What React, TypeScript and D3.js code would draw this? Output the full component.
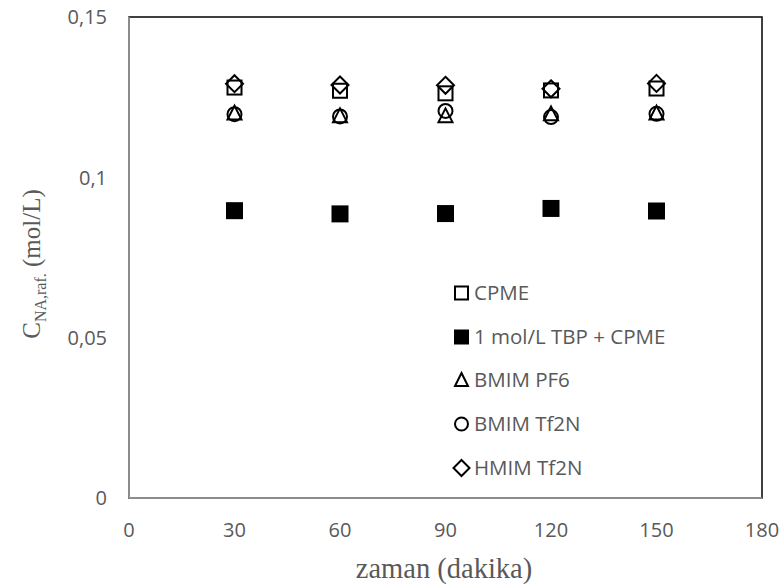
import React from "react";
import * as d3 from "d3";

const times = [30, 60, 90, 120, 150];
const cpme = [0.128, 0.127, 0.1262, 0.1271, 0.1277];
const tbpCpme = [0.0896, 0.0886, 0.0887, 0.0903, 0.0895];
const bmimPf6 = [0.12, 0.1192, 0.1192, 0.1198, 0.12];
const bmimTf2n = [0.1197, 0.119, 0.1207, 0.1188, 0.1198];
const hmimTf2n = [0.1292, 0.1288, 0.1287, 0.1276, 0.1293];
const xTicks = [0, 30, 60, 90, 120, 150, 180];
const yTicks = [0, 0.05, 0.1, 0.15];
const seriesNames = ["CPME", "1 mol/L TBP + CPME", "BMIM PF6", "BMIM Tf2N", "HMIM Tf2N"];

const W = 779, H = 586;
const L = 129, R = 762, T = 17, B = 498;
const x = d3.scaleLinear().domain([0, 180]).range([L, R]);
const y = d3.scaleLinear().domain([0, 0.15]).range([B, T]);
const gray = "#595959";
const fmt = (v: number) => String(v).replace(".", ",");

type Kind = "sq" | "fsq" | "tri" | "circ" | "dia";
const kinds: Kind[] = ["sq", "fsq", "tri", "circ", "dia"];
const data = [cpme, tbpCpme, bmimPf6, bmimTf2n, hmimTf2n];

function Marker({ kind, cx, cy, s, sw }: { kind: Kind; cx: number; cy: number; s: number; sw: number }) {
  const h = s / 2;
  if (kind === "sq" || kind === "fsq") {
    return (
      <rect x={cx - h + sw / 2} y={cy - h + sw / 2} width={s - sw} height={s - sw}
        fill={kind === "fsq" ? "#000" : "none"} stroke="#000" strokeWidth={sw} />
    );
  }
  if (kind === "circ") {
    return <circle cx={cx} cy={cy} r={h - sw / 2} fill="none" stroke="#000" strokeWidth={sw} />;
  }
  if (kind === "tri") {
    const th = s * 0.8;
    const p = `M${cx},${cy - th / 2 - 1} L${cx + h - 1},${cy + th / 2} L${cx - h + 1},${cy + th / 2} Z`;
    return <path d={p} fill="none" stroke="#000" strokeWidth={sw} strokeLinejoin="miter" />;
  }
  const d = h + 0.5;
  const p = `M${cx},${cy - d} L${cx + d},${cy} L${cx},${cy + d} L${cx - d},${cy} Z`;
  return <path d={p} fill="none" stroke="#000" strokeWidth={sw} />;
}

export default function App() {
  const legendY = [293, 337, 380, 424, 468];
  return (
    <svg width={W} height={H} style={{ position: "absolute", left: 0, top: 0, background: "#fff" }}>
      <rect x={0} y={0} width={W} height={H} fill="#fff" />
      <rect x={L} y={T} width={R - L} height={B - T} fill="none" stroke="#000" strokeWidth={1.5} />
      <line x1={L} x2={L} y1={T} y2={B} stroke="#a6a6a6" strokeWidth={1.5} />
      <line x1={L} x2={R} y1={B} y2={B} stroke="#a6a6a6" strokeWidth={1.5} />
      {yTicks.map((t) => (
        <text key={t} x={107} y={y(t)} dy="0.36em" textAnchor="end" fontFamily="'Open Sans', sans-serif"
          fontSize={20} fill={gray}>{fmt(t)}</text>
      ))}
      {xTicks.map((t) => (
        <text key={t} x={x(t)} y={537} textAnchor="middle" fontFamily="'Open Sans', sans-serif"
          fontSize={20} fill={gray}>{t}</text>
      ))}
      <text x={444} y={578} textAnchor="middle" fontFamily="'Liberation Serif', serif" fontSize={28.5}
        fill={gray}>zaman (dakika)</text>
      <text transform="translate(40,264) rotate(-90)" textAnchor="middle"
        fontFamily="'Liberation Serif', serif" fontSize={25} fill={gray}>
        C<tspan fontSize={16} dy={6}>NA,raf.</tspan><tspan dy={-6}> (mol/L)</tspan>
      </text>
      {data.map((vals, si) => (
        <g key={si}>
          {vals.map((v, i) => (
            <Marker key={i} kind={kinds[si]} cx={x(times[i])} cy={y(v)} s={si === 1 ? 17 : 16} sw={2} />
          ))}
        </g>
      ))}
      {seriesNames.map((n, i) => (
        <g key={n}>
          <Marker kind={kinds[i]} cx={461.5} cy={legendY[i]} s={15} sw={2} />
          <text x={474} y={legendY[i]} dy="0.36em" fontFamily="'Open Sans', sans-serif" fontSize={20.5}
            fill={gray}>{n}</text>
        </g>
      ))}
    </svg>
  );
}
